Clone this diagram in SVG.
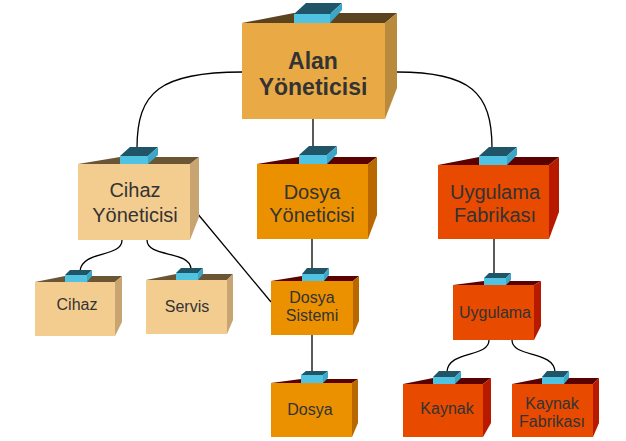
<svg xmlns="http://www.w3.org/2000/svg" width="626" height="441" viewBox="0 0 626 441">
  <style>
    .bg { fill: #ffffff; }
    .wire { fill: none; stroke: #000000; stroke-width: 1.3; }
    .t-front { fill: #4FC3E1; }
    .t-top { fill: #1F5566; }
    .t-side { fill: #3BA7C6; }
    .tan .front { fill: #E9A945; } .tan .top { fill: #5C4320; } .tan .side { fill: #B98A3C; }
    .sand .front { fill: #F3CD90; } .sand .top { fill: #6A5535; } .sand .side { fill: #C8A470; }
    .amber .front { fill: #EB9100; } .amber .top { fill: #5A0200; } .amber .side { fill: #B96800; }
    .red .front { fill: #E84A00; } .red .top { fill: #5A0200; } .red .side { fill: #B81A00; }
    text { font-family: "Liberation Sans", Arial, sans-serif; fill: #333333; text-anchor: middle; }
    .big { font-size: 23px; font-weight: bold; }
    .mid { font-size: 20px; }
    .sm { font-size: 16px; }
  </style>
  <rect class="bg" x="0" y="0" width="626" height="441"/>

  <g id="connectors">
    <path class="wire" d="M242,72 C160,72 137,92 137,148"/>
    <path class="wire" d="M397,72 C470,72 492,92 492,148"/>
    <path class="wire" d="M313,119 L313,147"/>
    <path class="wire" d="M312,239 L312,268"/>
    <path class="wire" d="M312,335 L312,372"/>
    <path class="wire" d="M122,240 C122,258 82,250 80,271"/>
    <path class="wire" d="M147,240 C147,258 190,250 191,269"/>
    <path class="wire" d="M197,213 L271,302"/>
    <path class="wire" d="M494,239 L494,274"/>
    <path class="wire" d="M489,340 C489,358 448,350 447,372"/>
    <path class="wire" d="M512,340 C512,358 554,350 555,372"/>
  </g>

  <!-- Alan Yöneticisi -->
  <g id="alan-yoneticisi" class="tan">
    <polygon class="top" points="242,23 294,13 397,13 385,23"/>
    <polygon class="side" points="385,23 397,13 397,88 385,119"/>
    <rect class="front" x="242" y="23" width="143" height="96"/>
    <polygon class="t-top" points="294,14 306,3 342,3 330,14"/>
    <polygon class="t-side" points="330,14 342,3 342,10 330,23"/>
    <rect class="t-front" x="294" y="14" width="36" height="9"/>
    <text class="big" x="313" y="69">Alan</text>
    <text class="big" x="313" y="95">Yöneticisi</text>
  </g>

  <!-- Cihaz Yöneticisi -->
  <g id="cihaz-yoneticisi" class="sand">
    <polygon class="top" points="78,164 120,157 199,157 190,164"/>
    <polygon class="side" points="190,164 199,157 199,217 190,240"/>
    <rect class="front" x="78" y="164" width="112" height="76"/>
    <polygon class="t-top" points="120,156 130,147 158,147 148,156"/>
    <polygon class="t-side" points="148,156 158,147 158,155 148,164"/>
    <rect class="t-front" x="120" y="156" width="28" height="8"/>
    <text class="mid" x="135" y="197">Cihaz</text>
    <text class="mid" x="135" y="222">Yöneticisi</text>
  </g>

  <!-- Dosya Yöneticisi -->
  <g id="dosya-yoneticisi" class="amber">
    <polygon class="top" points="257,164 299,157 377,157 368,164"/>
    <polygon class="side" points="368,164 377,157 377,215 368,239"/>
    <rect class="front" x="257" y="164" width="111" height="75"/>
    <polygon class="t-top" points="299,155 309,146 337,146 327,155"/>
    <polygon class="t-side" points="327,155 337,146 337,154 327,164"/>
    <rect class="t-front" x="299" y="155" width="28" height="9"/>
    <text class="mid" x="312" y="199">Dosya</text>
    <text class="mid" x="312" y="222">Yöneticisi</text>
  </g>

  <!-- Uygulama Fabrikası -->
  <g id="uygulama-fabrikasi" class="red">
    <polygon class="top" points="438,165 479,157 559,157 549,165"/>
    <polygon class="side" points="549,165 559,157 559,212 549,239"/>
    <rect class="front" x="438" y="165" width="111" height="74"/>
    <polygon class="t-top" points="479,156 489,147 517,147 507,156"/>
    <polygon class="t-side" points="507,156 517,147 517,155 507,165"/>
    <rect class="t-front" x="479" y="156" width="28" height="9"/>
    <text class="mid" x="495" y="199">Uygulama</text>
    <text class="mid" x="495" y="222">Fabrikası</text>
  </g>

  <!-- Cihaz -->
  <g id="cihaz" class="sand">
    <polygon class="top" points="35,282 65,276 122,276 115,282"/>
    <polygon class="side" points="115,282 122,276 122,322 115,336"/>
    <rect class="front" x="35" y="282" width="80" height="54"/>
    <polygon class="t-top" points="65,275 70,270 92,270 87,275"/>
    <polygon class="t-side" points="87,275 92,270 92,276 87,282"/>
    <rect class="t-front" x="65" y="275" width="22" height="7"/>
    <text class="sm" x="77" y="310">Cihaz</text>
  </g>

  <!-- Servis -->
  <g id="servis" class="sand">
    <polygon class="top" points="146,280 176,274 233,274 227,280"/>
    <polygon class="side" points="227,280 233,274 233,320 227,334"/>
    <rect class="front" x="146" y="280" width="81" height="54"/>
    <polygon class="t-top" points="176,273 181,268 203,268 198,273"/>
    <polygon class="t-side" points="198,273 203,268 203,274 198,280"/>
    <rect class="t-front" x="176" y="273" width="22" height="7"/>
    <text class="sm" x="187" y="312">Servis</text>
  </g>

  <!-- Dosya Sistemi -->
  <g id="dosya-sistemi" class="amber">
    <polygon class="top" points="271,281 302,276 359,276 353,281"/>
    <polygon class="side" points="353,281 359,276 359,321 353,335"/>
    <rect class="front" x="271" y="281" width="82" height="54"/>
    <polygon class="t-top" points="302,274 307,268 329,268 324,274"/>
    <polygon class="t-side" points="324,274 329,268 329,275 324,281"/>
    <rect class="t-front" x="302" y="274" width="22" height="7"/>
    <text class="sm" x="312" y="303">Dosya</text>
    <text class="sm" x="312" y="321">Sistemi</text>
  </g>

  <!-- Uygulama -->
  <g id="uygulama" class="red">
    <polygon class="top" points="453,285 484,281 541,281 534,285"/>
    <polygon class="side" points="534,285 541,281 541,326 534,340"/>
    <rect class="front" x="453" y="285" width="81" height="55"/>
    <polygon class="t-top" points="484,278 489,273 511,273 506,278"/>
    <polygon class="t-side" points="506,278 511,273 511,280 506,285"/>
    <rect class="t-front" x="484" y="278" width="22" height="7"/>
    <text class="sm" x="495" y="318">Uygulama</text>
  </g>

  <!-- Dosya -->
  <g id="dosya" class="amber">
    <polygon class="top" points="271,383 301,379 358,379 352,383"/>
    <polygon class="side" points="352,383 358,379 358,423 352,437"/>
    <rect class="front" x="271" y="383" width="81" height="54"/>
    <polygon class="t-top" points="301,375 306,371 328,371 323,375"/>
    <polygon class="t-side" points="323,375 328,371 328,378 323,383"/>
    <rect class="t-front" x="301" y="375" width="22" height="8"/>
    <text class="sm" x="310" y="415">Dosya</text>
  </g>

  <!-- Kaynak -->
  <g id="kaynak" class="red">
    <polygon class="top" points="403,384 433,378 491,378 483,384"/>
    <polygon class="side" points="483,384 491,378 491,423 483,437"/>
    <rect class="front" x="403" y="384" width="80" height="53"/>
    <polygon class="t-top" points="433,377 439,371 461,371 455,377"/>
    <polygon class="t-side" points="455,377 461,371 461,378 455,384"/>
    <rect class="t-front" x="433" y="377" width="22" height="7"/>
    <text class="sm" x="447" y="414">Kaynak</text>
  </g>

  <!-- Kaynak Fabrikası -->
  <g id="kaynak-fabrikasi" class="red">
    <polygon class="top" points="512,384 542,378 599,378 593,384"/>
    <polygon class="side" points="593,384 599,378 599,423 593,437"/>
    <rect class="front" x="512" y="384" width="81" height="53"/>
    <polygon class="t-top" points="542,377 547,371 569,371 564,377"/>
    <polygon class="t-side" points="564,377 569,371 569,378 564,384"/>
    <rect class="t-front" x="542" y="377" width="22" height="7"/>
    <text class="sm" x="552" y="409">Kaynak</text>
    <text class="sm" x="552" y="427">Fabrikası</text>
  </g>
</svg>
